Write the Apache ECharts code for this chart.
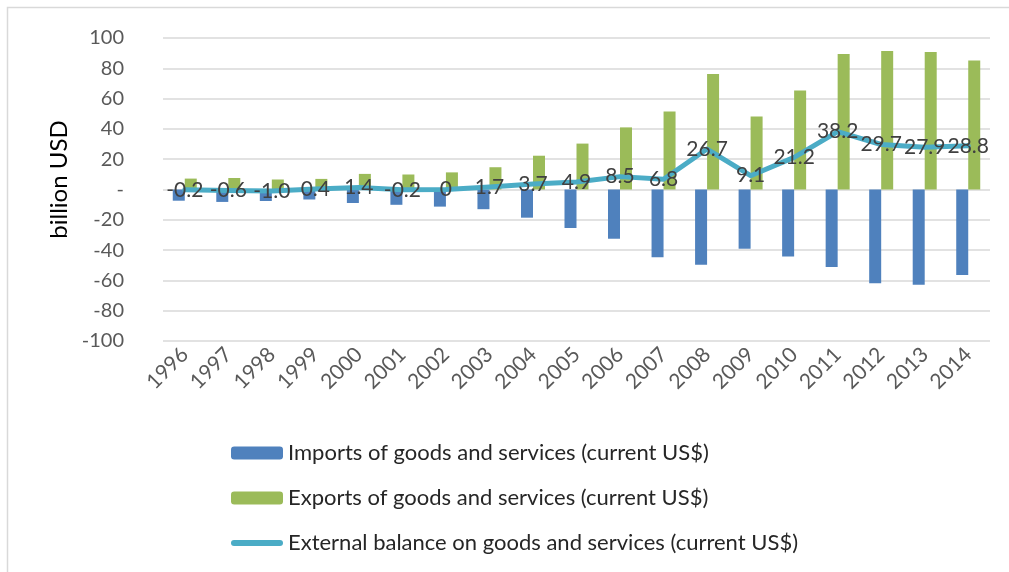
<!DOCTYPE html>
<html>
<head>
<meta charset="utf-8">
<script src="https://cdn.jsdelivr.net/npm/echarts@6/dist/echarts.min.js"></script>
<style>
  html, body { margin: 0; padding: 0; background: #fff; }
  #chart { width: 1009px; height: 572px; }
</style>
</head>
<body>
<div id="chart"></div>
<script>
// Years on the category axis
const years = ['1996','1997','1998','1999','2000','2001','2002','2003','2004','2005',
               '2006','2007','2008','2009','2010','2011','2012','2013','2014'];

// Imports of goods and services, billion USD (shown as negative)
const imports = [-7.4, -8.2, -7.6, -6.6, -8.9, -10.1, -11.3, -13.0, -18.6, -25.4,
                 -32.5, -44.7, -49.6, -39.1, -44.2, -51.2, -61.8, -62.9, -56.4];

// Exports of goods and services, billion USD
const exports = [7.2, 7.6, 6.6, 7.0, 10.3, 9.9, 11.3, 14.7, 22.3, 30.3,
                 41.0, 51.5, 76.3, 48.2, 65.4, 89.4, 91.5, 90.8, 85.2];

// External balance on goods and services, billion USD
const balance = [-0.2, -0.6, -1.0, 0.4, 1.4, -0.2, 0, 1.7, 3.7, 4.9,
                 8.5, 6.8, 26.7, 9.1, 21.2, 38.2, 29.7, 27.9, 28.8];

// Labels written on each balance point
const balanceLabels = ['-0.2','-0.6','-1.0','0.4','1.4','-0.2','0','1.7','3.7','4.9',
                       '8.5','6.8','26.7','9.1','21.2','38.2','29.7','27.9','28.8'];

const FONT = 'Lato';
const LINE_COLOR = '#4bacc6';

const chart = echarts.init(document.getElementById('chart'), null, { renderer: 'canvas' });

chart.setOption({
  backgroundColor: '#ffffff',
  animation: false,
  textStyle: { fontFamily: FONT },
  graphic: [{
    type: 'rect',
    shape: { x: 7.5, y: 7.5, width: 1020, height: 600 },
    style: { fill: 'none', stroke: '#d9d9d9', lineWidth: 1.5 },
    silent: true
  }],
  grid: { left: 163, right: 19, top: 38, bottom: 231 },
  legend: {
    orient: 'vertical',
    left: 226,
    top: 437,
    height: 134,
    itemWidth: 52,
    itemHeight: 13,
    itemGap: 23,
    textStyle: { fontFamily: FONT, fontSize: 22, color: '#262626' },
    data: [
      { name: 'Imports of goods and services (current US$)' },
      { name: 'Exports of goods and services (current US$)' },
      {
        name: 'External balance on goods and services (current US$)',
        icon: 'path://M3,0 L49,0 A3,3 0 0 1 49,6 L3,6 A3,3 0 0 1 3,0 Z',
        itemStyle: { color: LINE_COLOR }
      }
    ]
  },
  xAxis: {
    type: 'category',
    data: years,
    axisLine: { show: false },
    axisTick: { show: false },
    axisLabel: {
      rotate: 45,
      margin: 10,
      fontFamily: FONT,
      fontSize: 21,
      color: '#595959',
      interval: 0
    }
  },
  yAxis: {
    type: 'value',
    min: -100,
    max: 100,
    interval: 20,
    name: 'billion USD',
    nameLocation: 'middle',
    nameGap: 82,
    nameRotate: 90,
    nameTextStyle: { fontFamily: FONT, fontSize: 24, color: '#000000', padding: [0, 0, 0, 20] },
    axisLine: { show: false },
    axisTick: { show: false },
    splitLine: { lineStyle: { color: '#d9d9d9', width: 1.5 } },
    axisLabel: {
      margin: 39,
      fontFamily: FONT,
      fontSize: 20,
      color: '#595959',
      formatter: v => (v === 0 ? '-' : String(v))
    }
  },
  series: [
    {
      name: 'Imports of goods and services (current US$)',
      type: 'bar',
      data: imports,
      barWidth: 12,
      barGap: '0%',
      itemStyle: { color: '#4f81bd' }
    },
    {
      name: 'Exports of goods and services (current US$)',
      type: 'bar',
      data: exports,
      barWidth: 12,
      barGap: '0%',
      itemStyle: { color: '#9bbb59' }
    },
    {
      name: 'External balance on goods and services (current US$)',
      type: 'line',
      data: balance,
      symbol: 'circle',
      symbolSize: 2,
      showSymbol: true,
      z: 5,
      lineStyle: { color: LINE_COLOR, width: 5, cap: 'round', join: 'round' },
      itemStyle: { color: 'rgba(0,0,0,0)' },
      label: {
        show: true,
        position: 'inside',
        fontFamily: FONT,
        fontSize: 21,
        color: '#404040',
        formatter: p => balanceLabels[p.dataIndex]
      },
      labelLayout: { hideOverlap: false }
    }
  ]
});
</script>
</body>
</html>
